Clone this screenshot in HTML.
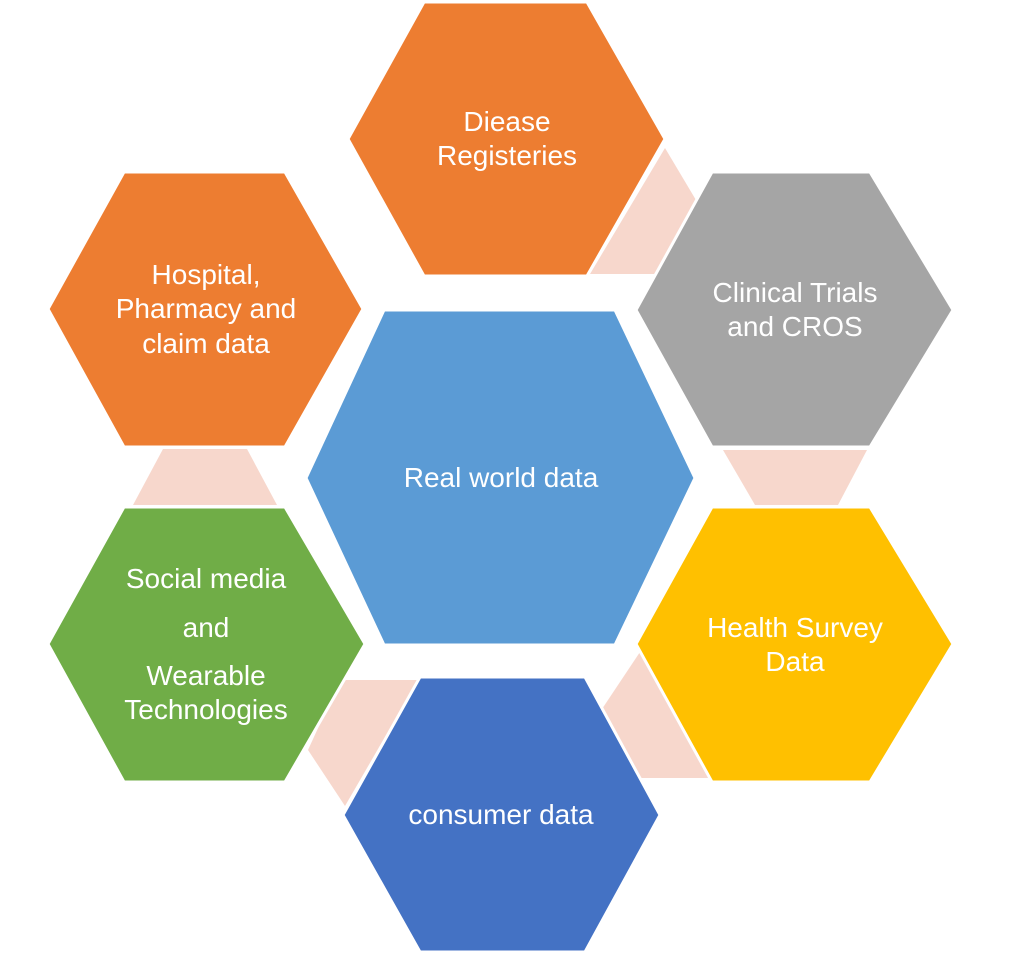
<!DOCTYPE html>
<html><head><meta charset="utf-8"><style>
html,body{margin:0;padding:0;background:#fff;}
svg{display:block;}
text{font-family:"Liberation Sans",sans-serif;font-size:28px;fill:#fff;text-anchor:middle;}
</style></head><body>
<svg width="1024" height="955" viewBox="0 0 1024 955">
<g fill="#f7d7cc">
<polygon points="590,274 665,148 740,274"/>
<polygon points="723,450 867,450 838,505 755,505"/>
<polygon points="640,652 600,712 640,778 712,778"/>
<polygon points="340,680 418,680 345,806 308,750"/>
<polygon points="163,449 247,449 277,505 133,505"/>
</g>
<g stroke="#fff" stroke-width="3">
<polygon fill="#ed7d31" points="424,2 587,2 665,139 587,276 424,276 348,139"/>
<polygon fill="#a5a5a5" points="712,172 870,172 953,310 870,447 712,447 636,310"/>
<polygon fill="#ed7d31" points="124,172 285,172 363,309 285,447 124,447 48,309"/>
<polygon fill="#5b9bd5" points="384,310 615,310 695,478 615,645 384,645 306,478"/>
<polygon fill="#70ad47" points="124,507 285,507 365,644 285,782 124,782 48,644"/>
<polygon fill="#ffc000" points="712,507 870,507 953,644 870,782 712,782 636,644"/>
<polygon fill="#4472c4" points="420,677 585,677 660,815 585,952 420,952 343,815"/>
</g>
<text x="507" y="131">Diease</text>
<text x="507" y="165">Registeries</text>
<text x="795" y="302">Clinical Trials</text>
<text x="795" y="336">and CROS</text>
<text x="206" y="284">Hospital,</text>
<text x="206" y="318">Pharmacy and</text>
<text x="206" y="353">claim data</text>
<text x="501" y="487">Real world data</text>
<text x="206" y="588">Social media</text>
<text x="206" y="637">and</text>
<text x="206" y="685">Wearable</text>
<text x="206" y="719">Technologies</text>
<text x="795" y="637">Health Survey</text>
<text x="795" y="671">Data</text>
<text x="501" y="824">consumer data</text>
</svg>
</body></html>
